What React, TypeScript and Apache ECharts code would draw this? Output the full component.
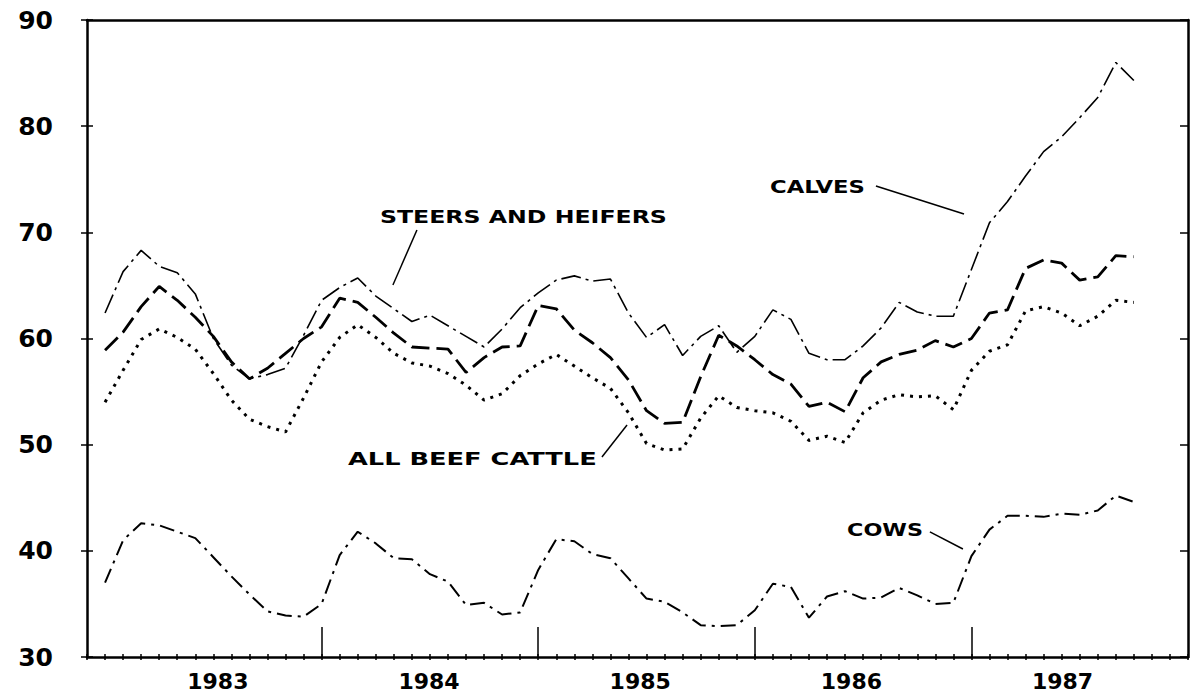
import React, { useEffect, useRef } from "react";
import * as echarts from "echarts";

// Monthly prices, Jan 1983 .. Oct 1987 (month index 1 = Jan 1983)
const calves = [
  62.4, 66.3, 68.3, 66.8, 66.2, 64.2, 60.0, 57.5, 56.2, 56.6, 57.2, 60.3,
  63.6, 64.8, 65.7, 64.0, 62.8, 61.6, 62.2, 61.2, 60.2, 59.2, 60.9, 62.9,
  64.3, 65.5, 65.9, 65.4, 65.6, 62.4, 60.1, 61.3, 58.4, 60.2, 61.2, 58.7,
  60.2, 62.7, 61.8, 58.6, 58.0, 58.0, 59.3, 61.0, 63.4, 62.5, 62.1, 62.1,
  66.5, 70.9, 72.9, 75.3, 77.6, 79.0, 80.8, 82.7, 86.0, 84.3,
];
const steersHeifers = [
  58.9, 60.6, 63.0, 64.9, 63.6, 62.0, 60.2, 57.8, 56.2, 57.2, 58.6, 60.0,
  61.1, 63.8, 63.4, 62.0, 60.5, 59.2, 59.1, 59.0, 56.8, 58.2, 59.2, 59.3,
  63.1, 62.8, 60.8, 59.6, 58.2, 56.1, 53.2, 52.0, 52.1, 56.4, 60.3, 59.3,
  58.0, 56.6, 55.7, 53.6, 54.0, 53.1, 56.3, 57.8, 58.5, 58.9, 59.8, 59.2,
  60.0, 62.4, 62.7, 66.6, 67.4, 67.1, 65.5, 65.8, 67.8, 67.7,
];
const allBeefCattle = [
  54.0, 57.0, 59.9, 60.9, 60.1, 59.0, 56.7, 54.2, 52.4, 51.7, 51.2, 54.4,
  57.8, 60.1, 61.3, 60.1, 58.6, 57.7, 57.4, 56.7, 55.6, 54.2, 54.8, 56.5,
  57.6, 58.5, 57.4, 56.3, 55.3, 53.0, 50.1, 49.5, 49.6, 52.5, 54.6, 53.5,
  53.2, 53.0, 52.2, 50.4, 50.8, 50.2, 53.0, 54.2, 54.7, 54.5, 54.6, 53.3,
  57.0, 58.8, 59.4, 62.6, 63.0, 62.4, 61.2, 62.1, 63.6, 63.4,
];
const cows = [
  37.0, 41.0, 42.6, 42.4, 41.8, 41.2, 39.4, 37.6, 35.9, 34.3, 33.9, 33.8,
  35.0, 39.6, 41.8, 40.7, 39.3, 39.2, 37.8, 37.1, 34.9, 35.1, 34.0, 34.2,
  38.2, 41.1, 40.9, 39.7, 39.3, 37.4, 35.5, 35.2, 34.2, 33.0, 32.9, 33.0,
  34.4, 36.9, 36.6, 33.7, 35.7, 36.2, 35.5, 35.6, 36.5, 35.8, 35.0, 35.1,
  39.5, 42.0, 43.3, 43.3, 43.2, 43.5, 43.4, 43.8, 45.2, 44.6,
];

const yearLabels = ["1983", "1984", "1985", "1986", "1987"];
const yearBoundaries = [13, 25, 37, 49];
const yTickValues = [30, 40, 50, 60, 70, 80, 90];

// Annotation names with anchor (data coords) and leader line (data coords)
const annotationNames = ["STEERS AND HEIFERS", "CALVES", "ALL BEEF CATTLE", "COWS"];
const annotationAnchors = [
  [16.23, 71.49],
  [37.84, 74.32],
  [14.46, 48.65],
  [42.11, 41.96],
];
const annotationWidths = [287, 95, 249, 76];
const leaderStarts = [
  [18.28, 70.22],
  [43.71, 74.36],
  [28.53, 48.84],
  [46.7, 41.78],
];
const leaderEnds = [
  [16.95, 65.04],
  [48.59, 71.73],
  [29.92, 51.85],
  [48.53, 40.17],
];

const toPoints = (arr: number[]) => arr.map((v, i) => [i + 1, v]);

const FONT = '"DejaVu Sans", "Liberation Sans", sans-serif';
const INK = "#000";

export default function App() {
  const ref = useRef<HTMLDivElement>(null);

  useEffect(() => {
    if (!ref.current) return;
    const chart = echarts.init(ref.current, undefined, { renderer: "svg" });

    const xMin = 0;
    const xMax = 61;
    const labelStart = 7.25;
    const labelStep = 11.7;
    const labelPositions = yearLabels.map((_, k) => labelStart + labelStep * k);

    const baseX = {
      type: "value" as const,
      min: xMin,
      max: xMax,
      splitLine: { show: false },
    };
    const baseY = {
      type: "value" as const,
      min: yTickValues[0],
      max: yTickValues[yTickValues.length - 1],
      interval: 10,
      splitLine: { show: false },
    };

    const option: any = {
      animation: false,
      backgroundColor: "#fff",
      grid: { left: 87, right: 7, top: 20, bottom: 36, containLabel: false },
      xAxis: [
        {
          ...baseX,
          position: "bottom",
          interval: 1,
          axisLine: { show: true, onZero: false, lineStyle: { color: INK, width: 2.5 } },
          axisTick: { show: true, inside: false, length: 3, lineStyle: { color: INK, width: 1.5 } },
          axisLabel: { show: false },
        },
        {
          ...baseX,
          position: "bottom",
          interval: 1,
          axisLine: { show: false, onZero: false },
          axisTick: { show: true, inside: true, length: 3, lineStyle: { color: INK, width: 1.5 } },
          axisLabel: { show: false },
        },
        {
          ...baseX,
          position: "bottom",
          interval: 1,
          axisLine: { show: false, onZero: false },
          axisTick: {
            show: true,
            inside: true,
            length: 30,
            customValues: yearBoundaries,
            lineStyle: { color: INK, width: 1.5 },
          },
          axisLabel: {
            show: true,
            customValues: labelPositions,
            formatter: (v: number) => {
              const k = Math.round((v - labelStart) / labelStep);
              return yearLabels[k] ?? "";
            },
            margin: 13,
            color: INK,
            fontSize: 22,
            fontWeight: "bold",
            fontFamily: FONT,
          },
        },
        {
          ...baseX,
          position: "top",
          axisLine: { show: true, onZero: false, lineStyle: { color: INK, width: 2.5 } },
          axisTick: { show: false },
          axisLabel: { show: false },
        },
      ],
      yAxis: [
        {
          ...baseY,
          position: "left",
          axisLine: { show: true, onZero: false, lineStyle: { color: INK, width: 2.5 } },
          axisTick: { show: true, inside: false, length: 6, lineStyle: { color: INK, width: 1.5 } },
          axisLabel: {
            show: true,
            margin: 34,
            color: INK,
            fontSize: 25,
            fontWeight: "bold",
            fontFamily: FONT,
          },
        },
        {
          ...baseY,
          position: "left",
          axisLine: { show: false, onZero: false },
          axisTick: { show: true, inside: true, length: 6, lineStyle: { color: INK, width: 1.5 } },
          axisLabel: { show: false },
        },
        {
          ...baseY,
          position: "right",
          axisLine: { show: true, onZero: false, lineStyle: { color: INK, width: 2.5 } },
          axisTick: { show: true, inside: true, length: 8, lineStyle: { color: INK, width: 1.5 } },
          axisLabel: { show: false },
        },
      ],
      series: [
        {
          name: "Calves",
          type: "line",
          data: toPoints(calves),
          symbol: "none",
          lineStyle: { color: INK, width: 1.6, type: [20, 5, 3, 5] },
        },
        {
          name: "Steers and heifers",
          type: "line",
          data: toPoints(steersHeifers),
          symbol: "none",
          lineStyle: { color: INK, width: 2.8, type: [18, 7] },
        },
        {
          name: "All beef cattle",
          type: "line",
          data: toPoints(allBeefCattle),
          symbol: "none",
          lineStyle: { color: INK, width: 3, type: [3, 6] },
        },
        {
          name: "Cows",
          type: "line",
          data: toPoints(cows),
          symbol: "none",
          lineStyle: { color: INK, width: 2, type: [15, 6, 3, 6] },
        },
      ],
    };

    chart.setOption(option);

    // Annotations placed through the chart's own coordinate conversion
    const labelFontSize = 18;
    const canvas = document.createElement("canvas");
    const ctx = canvas.getContext("2d");
    const graphics: any[] = [];
    annotationNames.forEach((name, i) => {
      const p = chart.convertToPixel({ xAxisIndex: 0, yAxisIndex: 0 }, annotationAnchors[i]) as number[];
      let natural = name.length * labelFontSize * 0.75;
      if (ctx) {
        ctx.font = `bold ${labelFontSize}px "DejaVu Sans"`;
        natural = ctx.measureText(name).width || natural;
      }
      const sx = annotationWidths[i] / natural;
      graphics.push({
        type: "text",
        x: p[0],
        y: p[1],
        scaleX: sx,
        style: {
          text: name,
          fill: INK,
          font: `bold ${labelFontSize}px "DejaVu Sans"`,
          fontSize: labelFontSize,
          fontWeight: "bold",
          fontFamily: FONT,
          align: "left",
          verticalAlign: "middle",
        },
      });
      const a = chart.convertToPixel({ xAxisIndex: 0, yAxisIndex: 0 }, leaderStarts[i]) as number[];
      const b = chart.convertToPixel({ xAxisIndex: 0, yAxisIndex: 0 }, leaderEnds[i]) as number[];
      graphics.push({
        type: "line",
        shape: { x1: a[0], y1: a[1], x2: b[0], y2: b[1] },
        style: { stroke: INK, lineWidth: 1.5 },
      });
    });
    chart.setOption({ graphic: graphics });

    return () => chart.dispose();
  }, []);

  return (
    <div
      ref={ref}
      style={{ position: "absolute", left: 0, top: 0, width: 1195, height: 693, background: "#fff" }}
    />
  );
}
